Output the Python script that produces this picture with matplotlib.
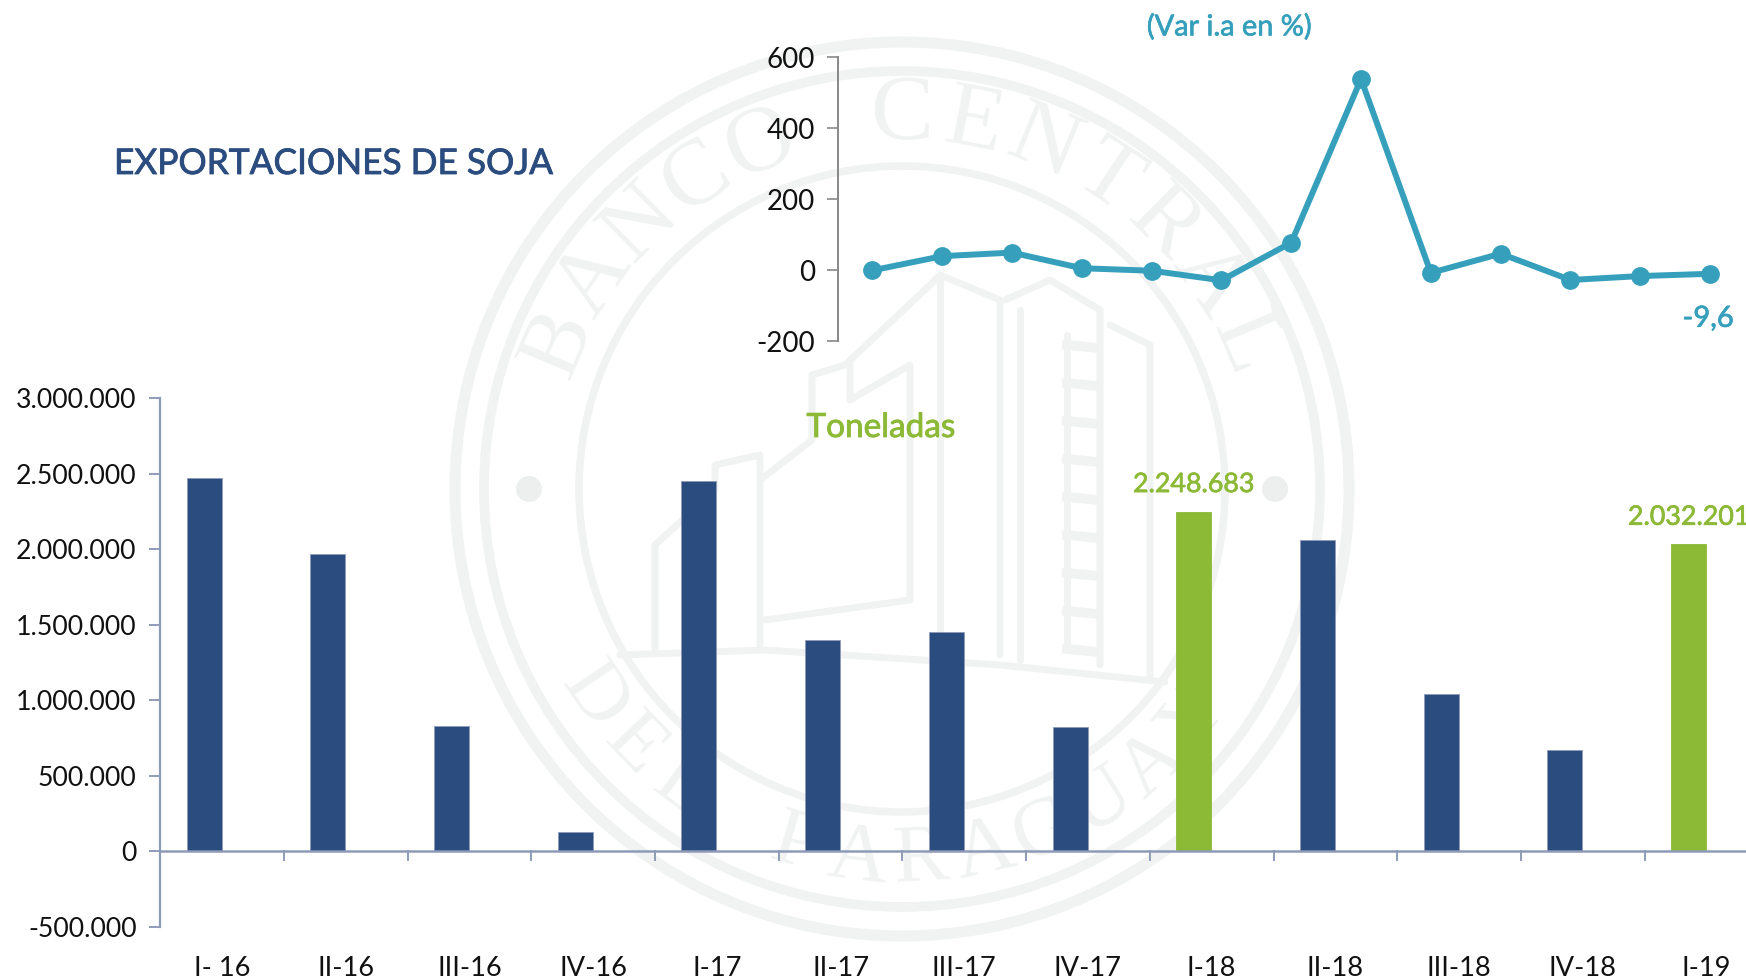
import numpy as np
import matplotlib
matplotlib.use('Agg')
import matplotlib.pyplot as plt
import matplotlib.patheffects as pe
from matplotlib.patches import Circle

plt.rcParams['font.family'] = ['Lato', 'DejaVu Sans']

W, H = 1746, 980

quarters = ['I- 16', 'II-16', 'III-16', 'IV-16', 'I-17', 'II-17', 'III-17', 'IV-17',
            'I-18', 'II-18', 'III-18', 'IV-18', 'I-19']
toneladas = [2474000, 1967000, 830000, 130000, 2449000, 1397000, 1452000, 824000,
             2248683, 2062000, 1044000, 669000, 2032201]
var_ia = [0, 40, 50, 6, -1, -28, 78, 538, -7, 47, -27, -16, -9.6]
bar_ticks = [-500000, 0, 500000, 1000000, 1500000, 2000000, 2500000, 3000000]
bar_tick_labels = ['-500.000', '0', '500.000', '1.000.000', '1.500.000', '2.000.000', '2.500.000', '3.000.000']
line_ticks = [-200, 0, 200, 400, 600]
highlight = ['I-18', 'I-19']

NAVY = '#2B4C7E'
GREEN = '#8CB936'
TEAL = '#36A0BC'
AXIS = '#8E9BB8'
SEAL = '#F0F3F2'

fig = plt.figure(figsize=(W / 100, H / 100), dpi=100, facecolor='white')


def axes_px(x0, y0, x1, y1):
    # pixel box, y from the top
    return fig.add_axes([x0 / W, 1 - y1 / H, (x1 - x0) / W, (y1 - y0) / H])


# watermark seal
bg = fig.add_axes([0, 0, 1, 1], zorder=0)
bg.set_xlim(0, W)
bg.set_ylim(H, 0)
bg.axis('off')
cx, cy = 902, 489
for r, lw in [(447, 8), (418, 7), (323, 5.5)]:
    bg.add_patch(Circle((cx, cy), r, fill=False, ec=SEAL, lw=lw))
for dx in (-373, 373):
    bg.add_patch(Circle((cx + dx, cy), 13, fc='#ECEFEE', ec='none'))


def arc_text(s, start, end, size, top=True):
    for ch, ang in zip(s, np.linspace(start, end, len(s))):
        a = np.radians(ang)
        rot = ang - 90 if top else ang - 270
        bg.text(cx + 372 * np.cos(a), cy - 372 * np.sin(a), ch, rotation=rot, rotation_mode='anchor',
                ha='center', va='center', fontsize=size, family='Liberation Serif', color=SEAL)


arc_text('BANCO CENTRAL', 157, 23, 68)
arc_text('DEL PARAGUAY', 214, 322, 60, top=False)

# building outline, roughly traced
building = [
    [(655, 650), (655, 545), (715, 490), (715, 465), (760, 455), (760, 650)],
    [(760, 480), (812, 440), (812, 375), (845, 365), (930, 285), (940, 275)],
    [(765, 620), (910, 600), (910, 365), (850, 400), (850, 360)],
    [(940, 275), (1000, 300), (1000, 655)],
    [(940, 275), (940, 650)],
    [(1005, 300), (1050, 280), (1100, 310), (1100, 665)],
    [(1020, 310), (1020, 660)],
    [(1110, 325), (1150, 345), (1150, 680)],
    [(1067, 335), (1067, 650)],
    [(620, 655), (765, 650), (1000, 665), (1165, 682)],
]
for pts in building:
    px, py = zip(*pts)
    bg.plot(px, py, color=SEAL, lw=5, solid_capstyle='round', solid_joinstyle='round')
for wy in range(345, 650, 38):
    bg.plot([1067, 1098], [wy, wy + 3], color=SEAL, lw=7)

# bars
ax = axes_px(160.3, 398, W, 927)
ax.patch.set_alpha(0)
x = np.arange(len(quarters))
colors = [GREEN if q in highlight else NAVY for q in quarters]
ax.bar(x - 0.145, toneladas, width=0.283, color=colors, edgecolor=[c if c == GREEN else AXIS for c in colors], linewidth=0.6)
ax.set_xlim(-0.5, 12.32)
ax.set_ylim(-500000, 3000000)
ax.set_yticks(bar_ticks)
ax.set_yticklabels(bar_tick_labels, fontsize=19.2, color='#111111')
ax.set_xticks([])
for s in ['top', 'right', 'bottom']:
    ax.spines[s].set_visible(False)
ax.spines['left'].set_color(AXIS)
ax.spines['left'].set_linewidth(1.6)
ax.axhline(0, color=AXIS, lw=1.8, zorder=1)
ax.tick_params(axis='y', length=8, width=1.4, color=AXIS, direction='out', pad=9)
for i in x[:-1]:
    ax.plot([i + 0.5, i + 0.5], [0, -60000], color=AXIS, lw=1.4, clip_on=False)
for i, q in zip(x, quarters):
    ax.annotate(q, (i, -500000), xytext=(0, -41), textcoords='offset pixels', ha='center', va='center',
                fontsize=19.6, color='#111111', annotation_clip=False)
for q, v in zip(quarters, toneladas):
    if q in highlight:
        i = quarters.index(q)
        label = f'{v:,}'.replace(',', '.')
        ax.annotate(label, (i - 0.145, v), xytext=(0, 27), textcoords='offset pixels', ha='center', va='center',
                    fontsize=19.3, color=GREEN, annotation_clip=False,
                    path_effects=[pe.withStroke(linewidth=0.5, foreground=GREEN)])

# line
lx = axes_px(837.5, 57, 1745, 341.5)
lx.patch.set_alpha(0)
lx.plot(x, var_ia, color=TEAL, lw=4.3, marker='o', ms=12.5)
lx.set_xlim(-0.5, 12.5)
lx.set_ylim(-200, 600)
lx.set_yticks(line_ticks)
lx.set_yticklabels([str(t) for t in line_ticks], fontsize=20, color='#111111')
lx.set_xticks([])
for s in ['top', 'right', 'bottom']:
    lx.spines[s].set_visible(False)
lx.spines['left'].set_color('#888888')
lx.spines['left'].set_linewidth(1.4)
lx.tick_params(axis='y', length=8, width=1.2, color='#888888', pad=8)
lx.annotate(f'{var_ia[-1]}'.replace('.', ','), (12, var_ia[-1]), xytext=(-2, -45), textcoords='offset pixels',
            ha='center', va='center', fontsize=21, color=TEAL, annotation_clip=False,
            path_effects=[pe.withStroke(linewidth=0.5, foreground=TEAL)])

# titles
fig.text(114 / W, 1 - 164 / H, 'EXPORTACIONES DE SOJA', fontsize=25.4, color=NAVY, va='center',
         path_effects=[pe.withStroke(linewidth=0.6, foreground=NAVY)])
fig.text(1229 / W, 1 - 27 / H, '(Var i.a en %)', fontsize=20.8, color=TEAL, ha='center', va='center',
         path_effects=[pe.withStroke(linewidth=0.5, foreground=TEAL)])
fig.text(881 / W, 1 - 428 / H, 'Toneladas', fontsize=24, color=GREEN, ha='center', va='center',
         path_effects=[pe.withStroke(linewidth=0.6, foreground=GREEN)])

fig.savefig('out.png', dpi=100)
